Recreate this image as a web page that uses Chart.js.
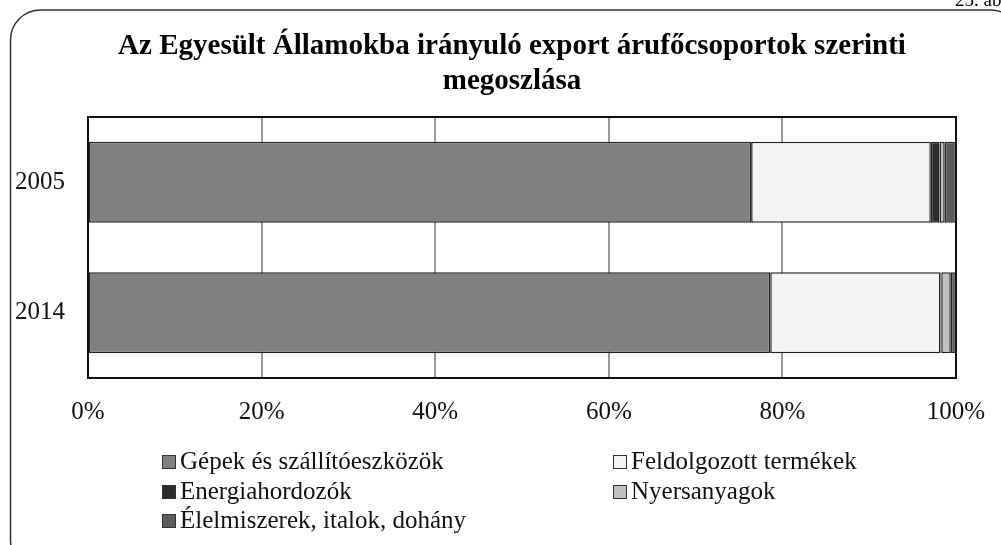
<!DOCTYPE html>
<html>
<head>
<meta charset="utf-8">
<script src="https://cdn.jsdelivr.net/npm/chart.js@4/dist/chart.umd.min.js"></script>
<style>
html,body{margin:0;padding:0;background:#fff;}
#wrap{position:relative;width:1001px;height:545px;}
</style>
</head>
<body>
<div id="wrap"><canvas id="c" width="1001" height="545"></canvas></div>
<script>
const categories = ['2005', '2014'];
const seriesNames = ['Gépek és szállítóeszközök', 'Feldolgozott termékek', 'Energiahordozók', 'Nyersanyagok', 'Élelmiszerek, italok, dohány'];
const gepek = [76.4, 78.6];
const feldolgozott = [20.7, 19.6];
const energia = [1.0, 0.1];
const nyersanyag = [0.6, 1.1];
const elelmiszer = [1.3, 0.6];
const xTicks = [0, 20, 40, 60, 80, 100];
const titleLines = ['Az Egyesült Államokba irányuló export árufőcsoportok szerinti', 'megoszlása'];
const cornerLabel = '25. ábra';

const colors = ['#808083', '#f2f3f2', '#2c2c2c', '#c1c1c4', '#5c5c5e'];
const seriesValues = [gepek, feldolgozott, energia, nyersanyag, elelmiszer];
const FONT = "'Liberation Serif', 'DejaVu Serif', serif";

const framePlugin = {
  id: 'frame',
  beforeDraw(chart) {
    const ctx = chart.ctx;
    ctx.save();
    ctx.fillStyle = '#fff';
    ctx.fillRect(0, 0, chart.width, chart.height);
    ctx.strokeStyle = '#333';
    ctx.lineWidth = 1.5;
    ctx.beginPath();
    ctx.roundRect(10.5, 10, 1010, 560, 30);
    ctx.stroke();
    ctx.fillStyle = '#000';
    ctx.font = '19px ' + FONT;
    ctx.textBaseline = 'alphabetic';
    ctx.textAlign = 'left';
    ctx.fillText(cornerLabel, 955, 6);
    // title
    ctx.font = 'bold 29px ' + FONT;
    ctx.textAlign = 'center';
    ctx.textBaseline = 'middle';
    ctx.fillText(titleLines[0], 512, 47);
    ctx.fillText(titleLines[1], 512, 82);
    ctx.restore();
  },
  afterDatasetsDraw(chart) {
    const a = chart.chartArea;
    const ctx = chart.ctx;
    ctx.save();
    ctx.strokeStyle = '#111';
    ctx.lineWidth = 2;
    ctx.strokeRect(a.left, a.top, a.right - a.left, a.bottom - a.top);
    ctx.restore();
  },
  afterDraw(chart) {
    const ctx = chart.ctx;
    ctx.save();
    ctx.font = '25px ' + FONT;
    ctx.textBaseline = 'middle';
    ctx.textAlign = 'left';
    const cols = [162, 613];
    const rows = [462, 492, 521];
    chart.data.datasets.forEach((ds, i) => {
      const col = i % 2, row = Math.floor(i / 2);
      const x = cols[col], y = rows[row];
      ctx.fillStyle = ds.backgroundColor;
      ctx.fillRect(x, y - 7, 14, 14);
      ctx.strokeStyle = '#333';
      ctx.lineWidth = 1;
      ctx.strokeRect(x + 0.5, y - 6.5, 13, 13);
      ctx.fillStyle = '#111';
      ctx.fillText(ds.label, x + 18, y);
    });
    ctx.restore();
  }
};

new Chart(document.getElementById('c'), {
  type: 'bar',
  data: {
    labels: categories,
    datasets: seriesNames.map((name, i) => ({
      label: name,
      data: seriesValues[i],
      backgroundColor: colors[i],
      borderColor: '#222',
      borderWidth: 1.5,
      borderSkipped: false,
      categoryPercentage: 1,
      barPercentage: 0.62
    }))
  },
  options: {
    indexAxis: 'y',
    responsive: false,
    animation: false,
    devicePixelRatio: 1,
    layout: { padding: { left: 0, right: 45, top: 117, bottom: 115 } },
    plugins: {
      legend: { display: false },
      tooltip: { enabled: false },
      title: { display: false }
    },
    scales: {
      x: {
        stacked: true,
        min: 0,
        max: 100,
        afterBuildTicks(scale) { scale.ticks = xTicks.map(v => ({ value: v })); },
        afterFit(scale) { scale.height = 52; scale.paddingLeft = 0; scale.paddingRight = 0; },
        ticks: {
          callback: v => v + '%',
          color: '#111',
          font: { family: FONT, size: 25 },
          padding: 19,
          maxRotation: 0
        },
        grid: { color: '#9a9a9a', lineWidth: 2, drawTicks: false },
        border: { color: '#111', width: 2 }
      },
      y: {
        stacked: true,
        afterFit(scale) { scale.width = 88; scale.paddingTop = 0; scale.paddingBottom = 0; },
        ticks: {
          color: '#111',
          font: { family: FONT, size: 25 },
          padding: 23
        },
        grid: { display: false, drawTicks: false },
        border: { color: '#111', width: 2 }
      }
    }
  },
  plugins: [framePlugin]
});
</script>
</body>
</html>
